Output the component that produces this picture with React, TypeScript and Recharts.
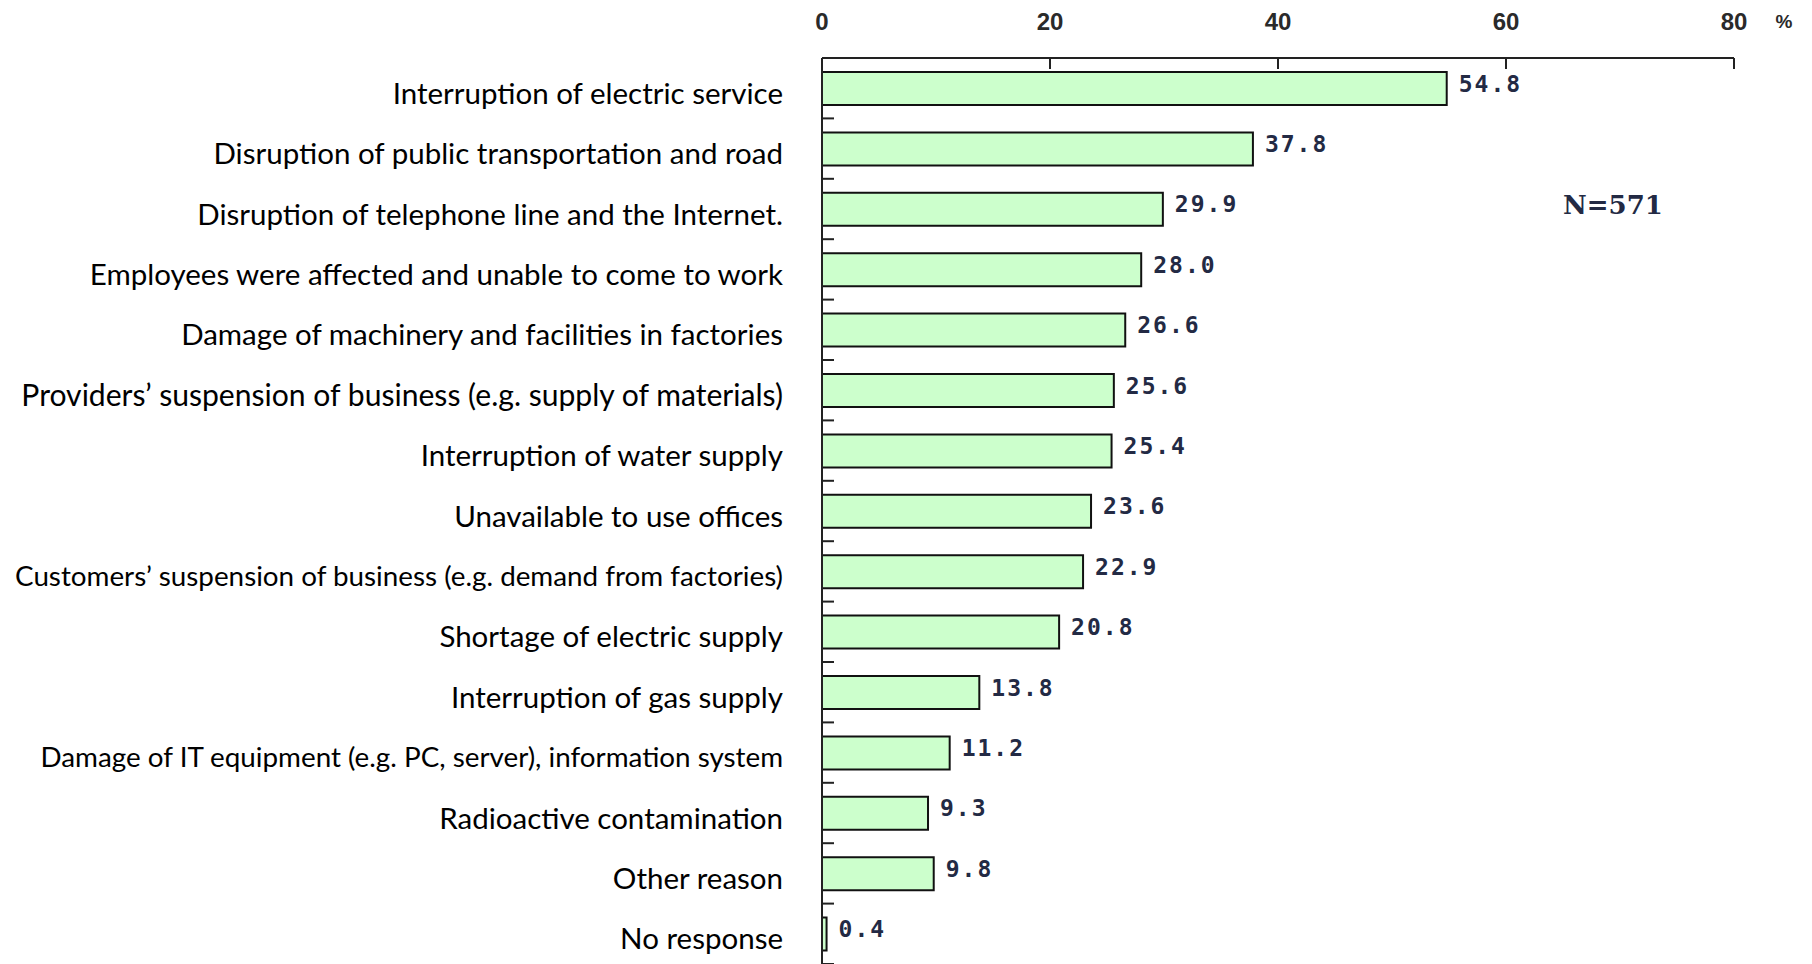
import { BarChart, Bar, XAxis, YAxis, LabelList, ReferenceDot } from "recharts";

const categories = [
  "Interruption of electric service",
  "Disruption of public transportation and road",
  "Disruption of telephone line and the Internet.",
  "Employees were affected and unable to come to work",
  "Damage of machinery and facilities in factories",
  "Providers\u2019 suspension of business (e.g. supply of materials)",
  "Interruption of water supply",
  "Unavailable to use offices",
  "Customers\u2019 suspension of business  (e.g. demand from factories)",
  "Shortage of electric supply",
  "Interruption of gas supply",
  "Damage of  IT equipment (e.g. PC, server), information system",
  "Radioactive contamination",
  "Other reason",
  "No response",
];
const shares = [54.8, 37.8, 29.9, 28.0, 26.6, 25.6, 25.4, 23.6, 22.9, 20.8, 13.8, 11.2, 9.3, 9.8, 0.4];
const xTicks = [0, 20, 40, 60, 80];
const sampleNote = "N=571";

const W = 1812;
const H = 964;
const TOP = 58;
const LEFT = 822;
const X_MARGIN = 37;
const Y_MARGIN = 39;
const BAND = (H - TOP) / categories.length;
const INK = "#222";

const data = categories.map((c, i) => ({ category: c, share: shares[i] }));

function TopTick(props: any) {
  const { x, y, payload } = props;
  const axisY = y + X_MARGIN;
  return (
    <g>
      {payload.value > 0 && (
        <line x1={x} x2={x} y1={axisY} y2={axisY + 11} stroke={INK} strokeWidth={2} />
      )}
      <text
        x={x}
        y={y}
        textAnchor="middle"
        dominantBaseline="central"
        fontFamily="Liberation Sans, Arial, sans-serif"
        fontWeight="bold"
        fontSize={24}
        fill="#2a2a2a"
      >
        {payload.value}
      </text>
      {payload.value === 80 && (
        <text
          x={x + 50}
          y={y}
          textAnchor="middle"
          dominantBaseline="central"
          fontFamily="Liberation Sans, Arial, sans-serif"
          fontWeight="bold"
          fontSize={19}
          fill="#2a2a2a"
        >
          %
        </text>
      )}
    </g>
  );
}

// the two longest labels sit in a slightly smaller type in the source
function LeftTick(props: any) {
  const { x, y, payload, index } = props;
  const axisX = x + Y_MARGIN;
  const label = String(payload.value);
  const size = index === 8 || index === 11 ? 27.8 : index === 5 ? 30.1 : 29.5;
  return (
    <g>
      <line x1={axisX} x2={axisX + 12} y1={y + BAND / 2} y2={y + BAND / 2} stroke={INK} strokeWidth={2} />
      <text
        x={x}
        y={y + 4}
        textAnchor="end"
        dominantBaseline="central"
        fontFamily="Lato, sans-serif"
        fontSize={size}
        fill="#000"
      >
        {label}
      </text>
    </g>
  );
}

function ValueLabel(props: any) {
  const { x, y, width, height, value } = props;
  return (
    <text
      x={x + width + 12}
      y={y + height / 2 - 5}
      dominantBaseline="central"
      fontFamily="DejaVu Sans Mono, monospace"
      fontWeight="bold"
      fontSize={23}
      letterSpacing={2}
      fill="#232a44"
    >
      {Number(value).toFixed(1)}
    </text>
  );
}

export default function App() {
  return (
    <div style={{ width: W, height: H, background: "#fff" }}>
      <style>{"body{margin:0}"}</style>
      <BarChart
        width={W}
        height={H}
        data={data}
        layout="vertical"
        margin={{ top: 0, right: W - LEFT - 912, bottom: 0, left: 0 }}
      >
        <XAxis
          type="number"
          orientation="top"
          domain={[0, 80]}
          ticks={xTicks}
          height={TOP}
          tickSize={0}
          tickMargin={X_MARGIN}
          tick={<TopTick />}
          axisLine={{ stroke: INK, strokeWidth: 2 }}
          tickLine={false}
        />
        <YAxis
          type="category"
          dataKey="category"
          width={LEFT}
          tickSize={0}
          tickMargin={Y_MARGIN}
          tick={<LeftTick />}
          axisLine={{ stroke: INK, strokeWidth: 2 }}
          tickLine={false}
          interval={0}
        />
        <Bar
          dataKey="share"
          fill="#ccffcc"
          stroke="#111"
          strokeWidth={2}
          barSize={33}
          isAnimationActive={false}
        >
          <LabelList dataKey="share" content={<ValueLabel />} />
        </Bar>
        <ReferenceDot
          x={65}
          y={categories[2]}
          r={0}
          fill="none"
          stroke="none"
          label={{
            value: sampleNote,
            position: "right",
            offset: 0,
            dy: -4,
            fill: "#232a44",
            fontSize: 26,
            fontWeight: "bold",
            fontFamily: "DejaVu Serif, serif",
          }}
        />
      </BarChart>
    </div>
  );
}
